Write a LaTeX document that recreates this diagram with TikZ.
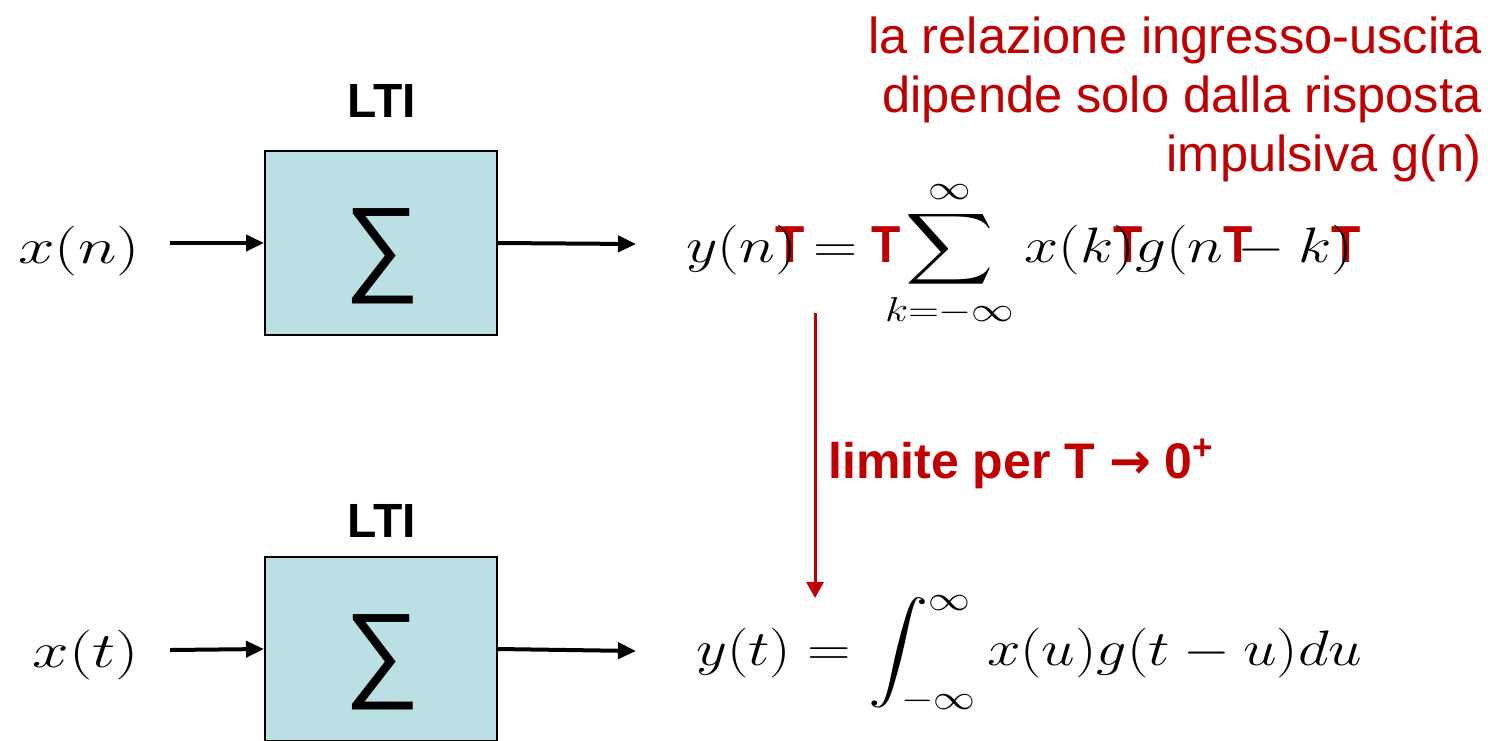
\documentclass[tikz,border=0pt]{standalone}
\usepackage{fontspec}
\setmainfont{Liberation Sans}
\newfontfamily\dejavu{DejaVu Sans}
\usepackage{amsmath}
\usepackage{graphicx}
\usetikzlibrary{arrows.meta}
\DeclareMathSizes{33}{33}{18}{13}
\definecolor{boxfill}{HTML}{BAE0E3}
\definecolor{dred}{HTML}{C00000}
\newcommand{\redT}{\scalebox{0.75}[1]{\textcolor{dred}{\fontsize{26}{26}\selectfont\bfseries T}}}
\newcommand{\wide}[2][1.2]{\scalebox{#1}[1]{#2}}
\tikzset{
  ltibox/.style={draw=black, line width=1pt, fill=boxfill, minimum width=116pt, minimum height=92pt, inner sep=0pt},
  sigmatext/.style={font=\fontsize{53}{53}\selectfont, inner sep=0pt},
  ltilabel/.style={font=\fontsize{24}{24}\selectfont\bfseries, inner sep=0pt, anchor=base},
  sig/.style={line width=2pt, -{Triangle[length=9pt,width=8pt]}},
  mathbig/.style={font=\fontsize{33}{40}\selectfont, inner sep=0pt},
  redtext/.style={text=dred, font=\fontsize{25.3}{28}\selectfont, inner sep=0pt, anchor=base east},
}
\begin{document}
\begin{tikzpicture}[x=0.5pt, y=-0.5pt]
\useasboundingbox (0,0) rectangle (1491,740);

% top system
\node[ltibox] (box1) at (381,243) {};
\node[sigmatext] (sig1) at (382,256) {∑};
\node[ltilabel] (lti1) at (382,117) {LTI};
\node[mathbig, anchor=base] (xn) at (79,263) {\wide[1.32]{$x(n)$}};
\coordinate (in1) at (170,243);
\coordinate (out1) at (636,244);
\draw[sig] (in1) -- (box1.west);
\draw[sig] (box1.east) -- (out1);

% bottom system
\node[ltibox] (box2) at (381,649) {};
\node[sigmatext] (sig2) at (382,662) {∑};
\node[ltilabel] (lti2) at (382,537) {LTI};
\node[mathbig, anchor=base] (xt) at (86,667) {\wide[1.32]{$x(t)$}};
\coordinate (in2) at (170,650);
\coordinate (out2) at (636,651);
\draw[sig] (in2) -- (box2.west);
\draw[sig] (box2.east) -- (out2);

% equations
\node[mathbig, anchor=base west] (eq1) at (686,262)
  {\wide[1.23]{$\displaystyle y(n\rlap{\redT}) = \rlap{\kern-1.5pt\redT}\sum_{k=-\infty}^{\infty} x(k\rlap{\redT})g(n\rlap{\redT}-k\rlap{\redT})$}};
\node[mathbig, anchor=base west] (eq2) at (696,665)
  {\wide[1.21]{$\displaystyle y(t) = \int_{-\infty}^{\infty} x(u)g(t-u)du$}};

% limit arrow
\coordinate (ra) at (815,313);
\coordinate (rb) at (815,598);
\draw[dred, line width=1.5pt, -{Triangle[length=8pt,width=8.5pt]}] (ra) -- (rb);
\node[text=dred, font=\fontsize{25}{25}\selectfont\bfseries, inner sep=0pt, anchor=base west] (lim) at (828,478)
  {limite per T {\dejavu\bfseries →} 0\textsuperscript{+}};

% red note
\node[redtext] (n1) at (1482,53) {la relazione ingresso-uscita};
\node[redtext] (n2) at (1482,112) {dipende solo dalla risposta};
\node[redtext] (n3) at (1482,171) {impulsiva g(n)};
\end{tikzpicture}
\end{document}
